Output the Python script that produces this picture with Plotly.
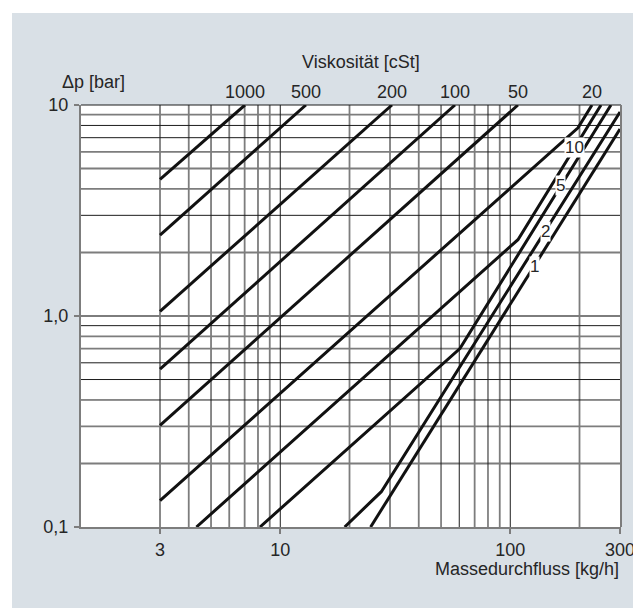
import numpy as np
import plotly.graph_objects as go

# ---------------- data ----------------
# Each viscosity curve: mass flow [kg/h] and pressure drop [bar] break points
flow_1000 = [3, 7.02]
dp_1000 = [4.44, 10]
flow_500 = [3, 12.93]
dp_500 = [2.42, 10]
flow_200 = [3, 30.6]
dp_200 = [1.053, 10]
flow_100 = [3, 57.5]
dp_100 = [0.560, 10]
flow_50 = [3, 108]
dp_50 = [0.303, 10]
flow_20 = [3, 197, 226.6]
dp_20 = [0.1334, 7.80, 10]
flow_10 = [4.32, 108, 248]
dp_10 = [0.1, 2.30, 10]
flow_5 = [8.16, 60.4, 274]
dp_5 = [0.1, 0.701, 10]
flow_2 = [19.05, 27.5, 300]
dp_2 = [0.1, 0.147, 9.27]
flow_1 = [24.7, 300]
dp_1 = [0.1, 7.69]

viscosity_names = ["1000", "500", "200", "100", "50", "20", "10", "5", "2", "1"]
curve_flows = [flow_1000, flow_500, flow_200, flow_100, flow_50, flow_20, flow_10, flow_5, flow_2, flow_1]
curve_dps = [dp_1000, dp_500, dp_200, dp_100, dp_50, dp_20, dp_10, dp_5, dp_2, dp_1]

top_label_names = ["1000", "500", "200", "100", "50", "20"]
inline_label_names = ["10", "5", "2", "1"]
inline_label_flow = [191, 166, 141.6, 126.9]

x_tick_vals = [3, 10, 100, 300]
x_tick_text = ["3", "10", "100", "300"]
y_tick_vals = [0.1, 1, 10]
y_tick_text = ["0,1", "1,0", "10"]

grid_x_dark = [10, 50, 60, 80, 100]
grid_x_gray = [3, 4, 5, 6, 7, 8, 9, 20, 30, 40, 70, 90, 200]
grid_y_dark = [8, 7, 3, 0.9, 0.6, 0.5, 0.4]
grid_y_gray = [9, 6, 5, 4, 2, 1, 0.8, 0.7, 0.3, 0.2]

# ---------------- layout constants ----------------
W, H = 641, 608
ML, MR, MT, MB = 73, 28, 97, 89
PW, PH = W - ML - MR, H - MT - MB
XR = [0.1336, 2.4814]
YR = [-1, 1]
FONT = "Liberation Sans, Arial, sans-serif"
FS = 18
TXT = "#262626"
BG = "#d9e0e6"
DARK = "#1c1c1c"
GRAY = "#7d7d7d"


def px_to_paper_x(px):
    return (px - ML) / PW


def py_to_paper_y(py):
    return (H - MB - py) / PH


def vlines(vals):
    xs, ys = [], []
    for v in vals:
        xs += [v, v, None]
        ys += [0.1, 10, None]
    return xs, ys


def hlines(vals):
    xs, ys = [], []
    for v in vals:
        xs += [10 ** XR[0], 10 ** XR[1], None]
        ys += [v, v, None]
    return xs, ys


fig = go.Figure()

for vals, col, w, fn in [
    (grid_x_gray, GRAY, 1.8, vlines),
    (grid_y_gray, GRAY, 1.8, hlines),
    (grid_x_dark, DARK, 1, vlines),
    (grid_y_dark, DARK, 1, hlines),
]:
    gx, gy = fn(vals)
    fig.add_trace(go.Scatter(x=gx, y=gy, mode="lines", line=dict(color=col, width=w),
                             hoverinfo="skip", showlegend=False))

for name, fx, dy in zip(viscosity_names, curve_flows, curve_dps):
    fig.add_trace(go.Scatter(x=fx, y=dy, mode="lines", name=name + " cSt",
                             line=dict(color="#111111", width=3), showlegend=False))

annotations = []
# viscosity labels at the top edge, above where the curves exit
for name, fx in zip(top_label_names, curve_flows[:6]):
    annotations.append(dict(x=np.log10(fx[-1]), y=1, xref="x", yref="paper",
                            text=name, showarrow=False, xanchor="center", yanchor="bottom",
                            yshift=1, font=dict(size=FS, color=TXT, family=FONT)))

# inline labels sitting on the steep curves
for name, fq in zip(inline_label_names, inline_label_flow):
    idx = viscosity_names.index(name)
    ly = np.interp(np.log10(fq), np.log10(curve_flows[idx]), np.log10(curve_dps[idx]))
    annotations.append(dict(x=np.log10(fq), y=ly, xref="x", yref="y", text=name,
                            showarrow=False, xanchor="center", yanchor="middle",
                            bgcolor="white", borderpad=0,
                            font=dict(size=17, color=TXT, family=FONT)))

annotations += [
    dict(x=px_to_paper_x(52), y=py_to_paper_y(74), xref="paper", yref="paper",
         text="Δp [bar]", showarrow=False, xanchor="left", yanchor="middle",
         font=dict(size=FS, color=TXT, family=FONT)),
    dict(x=px_to_paper_x(353), y=py_to_paper_y(54), xref="paper", yref="paper",
         text="Viskosität [cSt]", showarrow=False, xanchor="center", yanchor="middle",
         font=dict(size=FS, color=TXT, family=FONT)),
    dict(x=1, y=py_to_paper_y(561), xref="paper", yref="paper",
         text="Massedurchfluss [kg/h]", showarrow=False, xanchor="right", yanchor="middle",
         font=dict(size=FS, color=TXT, family=FONT)),
]

shapes = [
    # white strips around the grey panel
    dict(type="rect", xref="paper", yref="paper", x0=px_to_paper_x(0), x1=px_to_paper_x(W),
         y0=py_to_paper_y(5), y1=py_to_paper_y(0), fillcolor="white", line_width=0, layer="below"),
    dict(type="rect", xref="paper", yref="paper", x0=px_to_paper_x(0), x1=px_to_paper_x(4),
         y0=py_to_paper_y(H), y1=py_to_paper_y(0), fillcolor="white", line_width=0, layer="below"),
    # frame: top dark, right grey
    dict(type="line", xref="paper", yref="paper", x0=0, x1=1, y0=1, y1=1,
         line=dict(color=DARK, width=1.2)),
    dict(type="line", xref="paper", yref="paper", x0=1, x1=1, y0=0, y1=1,
         line=dict(color=GRAY, width=2)),
]

fig.update_layout(
    width=W, height=H,
    margin=dict(l=ML, r=MR, t=MT, b=MB, pad=0),
    paper_bgcolor=BG, plot_bgcolor="white",
    showlegend=False,
    annotations=annotations, shapes=shapes,
    font=dict(family=FONT, size=FS, color=TXT),
    xaxis=dict(type="log", range=XR, showgrid=False, zeroline=False,
               showline=True, linecolor=GRAY, linewidth=2,
               ticks="outside", ticklen=5, tickcolor=GRAY, tickwidth=1.5,
               tickvals=x_tick_vals, ticktext=x_tick_text,
               tickfont=dict(size=FS, color=TXT, family=FONT)),
    yaxis=dict(type="log", range=YR, showgrid=False, zeroline=False,
               showline=True, linecolor=GRAY, linewidth=2,
               ticks="outside", ticklen=5, tickcolor=GRAY, tickwidth=1.5,
               ticklabelstandoff=2,
               tickvals=y_tick_vals, ticktext=y_tick_text,
               tickfont=dict(size=FS, color=TXT, family=FONT)),
)

fig.write_html("out.html")
